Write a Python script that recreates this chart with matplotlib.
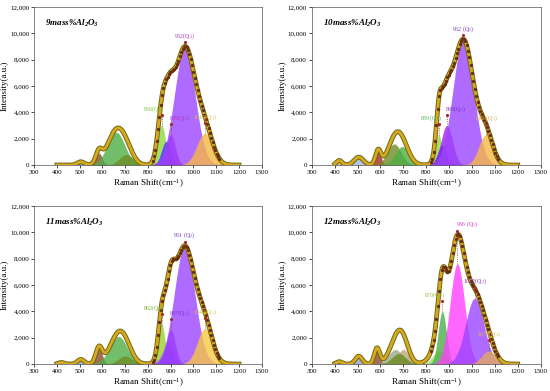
import numpy as np
import matplotlib
matplotlib.use('Agg')
import matplotlib.pyplot as plt
import matplotlib.patheffects as pe
from matplotlib.ticker import FuncFormatter

plt.rcParams['font.family'] = ['Liberation Serif', 'DejaVu Serif']
plt.rcParams['mathtext.fontset'] = 'custom'
plt.rcParams['mathtext.rm'] = 'Liberation Serif'
plt.rcParams['mathtext.it'] = 'Liberation Serif:italic'
plt.rcParams['mathtext.bf'] = 'Liberation Serif:bold'
plt.rcParams['mathtext.bfit'] = 'Liberation Serif:bold:italic'

# fitted peaks: centre (cm-1), height, sigma
titles = ['9', '10', '11', '12']

centres_9 = [505, 585, 660, 705, 860, 880, 900, 962, 1050]
heights_9 = [250, 900, 2500, 800, 3000, 1800, 2300, 8900, 2400]
sigmas_9 = [15, 14, 38, 30, 18, 20, 20, 45, 35]
colors_9 = ['#8fa3c8', '#8b4a2b', '#4fae45', '#6b8e23', '#8fd840', '#3b3bff',
            '#b015f0', '#9b45ff', '#f7b845']

centres_10 = [420, 505, 590, 660, 695, 855, 870, 890, 962, 1060]
heights_10 = [350, 600, 1100, 1600, 1400, 2300, 1500, 3000, 9500, 2300]
sigmas_10 = [12, 20, 12, 30, 30, 12, 20, 25, 45, 30]
colors_10 = ['#d2b48c', '#9fb6d8', '#a52a2a', '#6b8e23', '#4fae45', '#8fd840',
             '#3b3bff', '#a020f0', '#9b45ff', '#f7b845']

centres_11 = [420, 505, 585, 670, 700, 860, 890, 900, 961, 1050]
heights_11 = [120, 350, 1200, 2100, 600, 3000, 1600, 2600, 8900, 2700]
sigmas_11 = [12, 15, 14, 38, 30, 15, 20, 20, 45, 33]
colors_11 = ['#d2b48c', '#8fa3c8', '#8b4a2b', '#4fae45', '#6b8e23', '#9acd32',
             '#3b3bff', '#a020f0', '#9b45ff', '#f7c845']

centres_12 = [420, 505, 585, 665, 700, 680, 900, 855, 870, 936, 1012, 1073]
heights_12 = [180, 600, 1200, 1100, 1100, 800, 1800, 1000, 4000, 7600, 5000, 1000]
sigmas_12 = [12, 15, 12, 30, 25, 30, 50, 25, 18, 32, 40, 30]
colors_12 = ['#d2b48c', '#8fa3c8', '#8b4a2b', '#9aa88a', '#b8a878', '#6b8e23',
             '#f3e6f6', '#9be860', '#4cb04c', '#ff40ff', '#9b45ff', '#e0a860']

# labelled peaks: index into the lists above, label text, colour
labels_9 = [(4, '856(Q$_0$)', '#7cc040'), (6, '895(Q$_1$)', '#b030c0'),
            (7, '962(Q$_2$)', '#b030c0'), (8, '1049(Q$_3$)', '#d8b840')]
labels_10 = [(5, '859 (Q$_0$)', '#50b050'), (7, '890(Q$_1$)', '#7030c0'),
             (8, '962 (Q$_2$)', '#7030c0'), (9, '1060(Q$_3$)', '#d8a840')]
labels_11 = [(5, '862(Q$_0$)', '#70b030'), (7, '897(Q$_1$)', '#8030c0'),
             (8, '961 (Q$_2$)', '#7030c0'), (9, '1049(Q$_3$)', '#d8b840')]
labels_12 = [(8, '870(Q$_0$)', '#90c040'), (9, '936 (Q$_1$)', '#d030d0'),
             (10, '1012(Q$_2$)', '#8030c0'), (11, '1073(Q$_3$)', '#d8b840')]

panels = [
    (centres_9, heights_9, sigmas_9, colors_9, labels_9),
    (centres_10, heights_10, sigmas_10, colors_10, labels_10),
    (centres_11, heights_11, sigmas_11, colors_11, labels_11),
    (centres_12, heights_12, sigmas_12, colors_12, labels_12),
]

positions = [[0.062, 0.578, 0.414, 0.404], [0.567, 0.578, 0.416, 0.404],
             [0.062, 0.069, 0.414, 0.404], [0.567, 0.069, 0.416, 0.404]]

fig = plt.figure(figsize=(5.5, 3.91), dpi=100)
x = np.linspace(400, 1200, 801)


def peak(c, h, s, xx):
    return h * np.exp(-(xx - c) ** 2 / (2 * s ** 2))


for n, (cen, hei, sig, col, labs) in enumerate(panels):
    ax = fig.add_axes(positions[n])
    total = np.zeros_like(x)
    for c, h, s, cc in zip(cen, hei, sig, col):
        y = peak(c, h, s, x)
        total += y
        ax.fill_between(x, 0, y, where=y > 5, color=cc, alpha=0.8, lw=0)
    ax.plot(x, total, color='#d8a820', lw=2.0, zorder=5,
            path_effects=[pe.Stroke(linewidth=3.4, foreground='#6b6a12'), pe.Normal()])
    xd = np.arange(820, 1115, 6)
    yd = np.interp(xd, x, total)
    ax.plot(xd, yd, 'o', color='#6b2e12', ms=1.4, zorder=6)

    biggest = int(np.argmax(hei))
    for k, (i, txt, tc) in enumerate(labs):
        c, h = cen[i], hei[i]
        if i == biggest:
            top = np.interp(c, x, total) + 300
        else:
            top = h + 800
        ax.plot([c, c], [h, top], ls=':', color='#a04040', lw=0.6, zorder=7)
        ax.plot(c, top, 'o', color='#a03030', ms=1.3, zorder=7)
        if k == 0:
            ax.text(c + 12, top + 100, txt, fontsize=4.2, color=tc, ha='right', va='bottom', zorder=8)
        elif k == 1:
            ax.text(c - 8, top + 100, txt, fontsize=4.2, color=tc, ha='left', va='bottom', zorder=8)
        else:
            ax.text(c, top + 100, txt, fontsize=4.2, color=tc, ha='center', va='bottom', zorder=8)

    ax.text(0.05, 0.93, r'$\mathbfit{' + titles[n] + r'mass\%Al_2O_3}$', transform=ax.transAxes,
            fontsize=6.5, va='top')
    ax.set_xlim(300, 1300)
    ax.set_ylim(0, 12000)
    ax.set_xticks(np.arange(300, 1301, 100))
    ax.set_yticks(np.arange(0, 12001, 2000))
    ax.yaxis.set_major_formatter(FuncFormatter(lambda v, p: '{:,.0f}'.format(v)))
    ax.tick_params(labelsize=5, length=2, width=0.5, pad=1.5)
    for sp in ax.spines.values():
        sp.set_linewidth(0.5)
        sp.set_color('#555555')
    ax.set_xlabel('Raman Shift(cm$^{-1}$)', fontsize=6.5, labelpad=2)
    ax.set_ylabel('Intensity(a.u.)', fontsize=6.5, labelpad=1)

fig.savefig('out.png', dpi=100)
